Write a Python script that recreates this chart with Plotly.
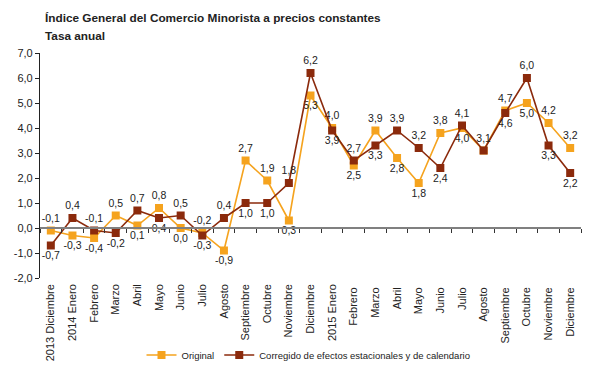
import plotly.graph_objects as go

categories = ["2013 Diciembre", "2014 Enero", "Febrero", "Marzo", "Abril", "Mayo", "Junio",
              "Julio", "Agosto", "Septiembre", "Octubre", "Noviembre", "Diciembre",
              "2015 Enero", "Febrero ", "Marzo ", "Abril ", "Mayo ", "Junio ", "Julio ",
              "Agosto ", "Septiembre ", "Octubre ", "Noviembre ", "Diciembre "]
original = [-0.1, -0.3, -0.4, 0.5, 0.1, 0.8, 0.0, -0.2, -0.9, 2.7, 1.9, 0.3, 5.3,
            4.0, 2.5, 3.9, 2.8, 1.8, 3.8, 4.0, 3.1, 4.7, 5.0, 4.2, 3.2]
corregido = [-0.7, 0.4, -0.1, -0.2, 0.7, 0.4, 0.5, -0.3, 0.4, 1.0, 1.0, 1.8, 6.2,
             3.9, 2.7, 3.3, 3.9, 3.2, 2.4, 4.1, 3.1, 4.6, 6.0, 3.3, 2.2]
y_ticks = [-2.0, -1.0, 0.0, 1.0, 2.0, 3.0, 4.0, 5.0, 6.0, 7.0]
y_tick_labels = ["-2,0", "-1,0", "0,0", "1,0", "2,0", "3,0", "4,0", "5,0", "6,0", "7,0"]

ORANGE = "#F5A31E"
BROWN = "#8B2A0C"
FONT = "Liberation Sans, Arial, sans-serif"


def fmt(v):
    return f"{v:.1f}".replace(".", ",")


orig_pos = ["top center" if o > c else "bottom center" for o, c in zip(original, corregido)]
corr_pos = ["top center" if c >= o else "bottom center" for o, c in zip(original, corregido)]
orig_text = ["" if o == c else fmt(o) for o, c in zip(original, corregido)]
corr_text = [fmt(c) for c in corregido]

fig = go.Figure()
fig.add_trace(go.Scatter(
    x=categories, y=original, name="Original", mode="lines+markers+text",
    line=dict(color=ORANGE, width=1.6),
    marker=dict(symbol="square", size=8, color=ORANGE),
    text=orig_text, textposition=orig_pos,
    textfont=dict(family=FONT, size=10.5, color="#222"),
))
fig.add_trace(go.Scatter(
    x=categories, y=corregido, name="Corregido de efectos estacionales y de calendario",
    mode="lines+markers+text",
    line=dict(color=BROWN, width=1.6),
    marker=dict(symbol="square", size=8, color=BROWN),
    text=corr_text, textposition=corr_pos,
    textfont=dict(family=FONT, size=10.5, color="#222"),
))
# helper trace to carry the zero-line category axis
fig.add_trace(go.Scatter(
    x=categories, y=[0] * len(categories), xaxis="x2", mode="lines",
    line=dict(width=0), showlegend=False, hoverinfo="skip",
))

ymin, ymax = -2.0, 7.0
zero_frac = (0 - ymin) / (ymax - ymin)
FIG_W, FIG_H = 605, 362
M_L, M_R, M_T, M_B = 32, 32, 45, 92
PLOT_W = FIG_W - M_L - M_R
PLOT_H = FIG_H - M_T - M_B

fig.update_layout(
    width=FIG_W, height=FIG_H,
    margin=dict(l=M_L, r=M_R, t=M_T, b=M_B, autoexpand=False),
    paper_bgcolor="white", plot_bgcolor="white",
    font=dict(family=FONT, size=11, color="#222"),
    showlegend=True,
    legend=dict(orientation="h", xref="container", yref="container",
                x=0.5 - 2 / FIG_W, xanchor="center", y=1 - 347 / FIG_H, yanchor="middle",
                font=dict(family=FONT, size=9.5, color="#222"), itemwidth=30,
                tracegroupgap=0),
    xaxis=dict(type="category", showline=False, ticks="", tickangle=-90,
               showgrid=False, zeroline=False, tickfont=dict(size=11), automargin=False,
               ticklabelstandoff=3, range=[-0.5, len(categories) - 0.5]),
    xaxis2=dict(type="category", overlaying="x", anchor="free", position=zero_frac,
                showline=True, linecolor="#808080", linewidth=1.5,
                ticks="outside", ticklen=4, tickcolor="#333", tickson="boundaries",
                showticklabels=False, showgrid=False, zeroline=False, automargin=False,
                range=[-0.5, len(categories) - 0.5]),
    yaxis=dict(range=[ymin, ymax], tickvals=y_ticks, ticktext=y_tick_labels,
               showline=True, linecolor="#222", linewidth=1.2, ticks="outside",
               ticklen=4, tickcolor="#222", showgrid=False, zeroline=False,
               tickfont=dict(size=11), automargin=False),
    annotations=[
        dict(text="<b>Índice General del Comercio Minorista a precios constantes</b>",
             xref="paper", yref="paper", x=(35 - M_L) / PLOT_W,
             y=(PLOT_H + M_T - 10) / PLOT_H,
             xanchor="left", yanchor="middle", align="left", showarrow=False,
             font=dict(family=FONT, size=11.8, color="#222")),
        dict(text="<b>Tasa anual</b>",
             xref="paper", yref="paper", x=(35 - M_L) / PLOT_W,
             y=(PLOT_H + M_T - 28) / PLOT_H,
             xanchor="left", yanchor="middle", align="left", showarrow=False,
             font=dict(family=FONT, size=11.8, color="#222")),
    ],
)

fig.write_html("out.html")
